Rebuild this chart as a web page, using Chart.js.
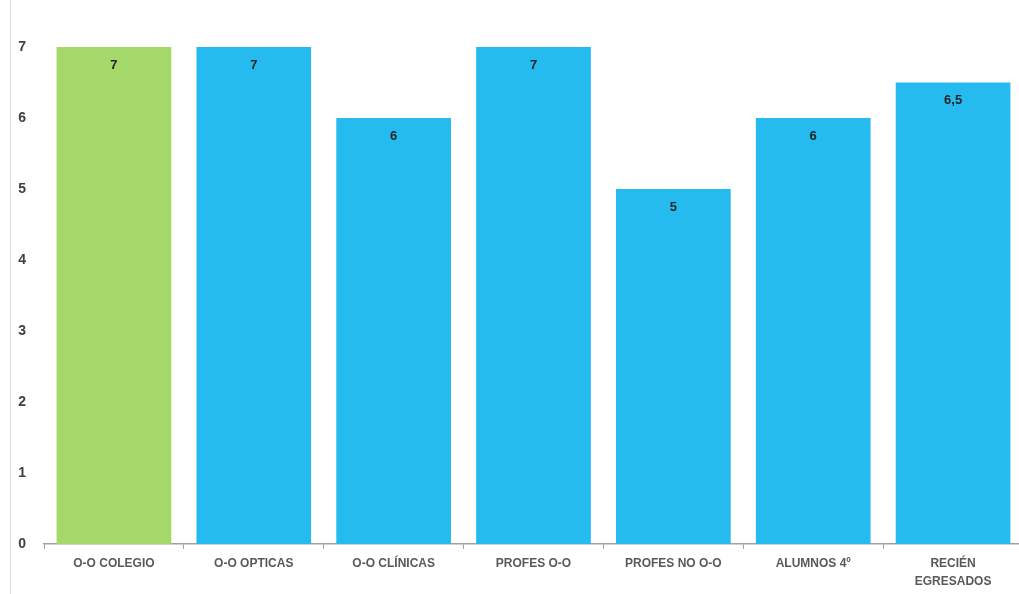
<!DOCTYPE html>
<html>
<head>
<meta charset="utf-8">
<script src="https://cdn.jsdelivr.net/npm/chart.js@4"></script>
<style>
  html, body { margin: 0; padding: 0; background: #fff; overflow: hidden; }
  #wrap { position: absolute; left: 0; top: 0; width: 1019px; height: 594px; overflow: hidden; }
  #edge { position: absolute; left: 10px; top: 0; width: 1px; height: 594px; background: #d9d9d9; }
  #myBarChart { position: absolute; left: 0; top: 0; }
</style>
</head>
<body>
<div id="wrap">
  <div id="edge"></div>
  <canvas id="myBarChart" width="1023" height="594"></canvas>
</div>
<script>
// categories and values
const categories = ['O-O COLEGIO', 'O-O OPTICAS', 'O-O CLÍNICAS', 'PROFES O-O', 'PROFES NO O-O', 'ALUMNOS 4º', ['RECIÉN', 'EGRESADOS']];
const values = [7, 7, 6, 7, 5, 6, 6.5];
const barColors = ['#a5d86a', '#26bbef', '#26bbef', '#26bbef', '#26bbef', '#26bbef', '#26bbef'];

// draws the value just inside the top of each bar
const valueLabels = {
    id: 'valueLabels',
    afterDatasetsDraw(chart) {
        const ctx = chart.ctx;
        const meta = chart.getDatasetMeta(0);
        ctx.save();
        ctx.font = 'bold 13px "Liberation Sans", sans-serif';
        ctx.fillStyle = '#262626';
        ctx.textAlign = 'center';
        ctx.textBaseline = 'middle';
        meta.data.forEach((bar, i) => {
            ctx.fillText(String(values[i]).replace('.', ','), bar.x, bar.y + 18);
        });
        ctx.restore();
    }
};

const ctx = document.getElementById('myBarChart').getContext('2d');
const myBarChart = new Chart(ctx, {
    type: 'bar',
    data: {
        labels: categories,
        datasets: [{
            data: values,
            backgroundColor: barColors,
            borderWidth: 0,
            barPercentage: 0.82,
            categoryPercentage: 1
        }]
    },
    options: {
        responsive: false,
        animation: false,
        layout: { padding: { top: 47, right: 0, left: 0, bottom: 0 } },
        plugins: {
            legend: { display: false },
            tooltip: { enabled: false }
        },
        scales: {
            x: {
                border: { display: true, color: '#a0a0a0', width: 1.5 },
                grid: { display: true, drawOnChartArea: false, drawTicks: true, tickLength: 5, color: '#a0a0a0', offset: true },
                ticks: {
                    color: '#595959',
                    font: { family: '"Liberation Sans", sans-serif', size: 12, weight: 'bold', lineHeight: 1.5 },
                    padding: 6,
                    maxRotation: 0,
                    autoSkip: false
                },
                afterFit: s => { s.height = 50; }
            },
            y: {
                min: 0,
                max: 7,
                border: { display: false },
                grid: { display: false, drawTicks: false },
                ticks: {
                    stepSize: 1,
                    color: '#404040',
                    font: { family: '"Liberation Sans", sans-serif', size: 14, weight: 'bold' },
                    padding: 18
                },
                afterFit: s => { s.width = 44; }
            }
        }
    },
    plugins: [valueLabels]
});
</script>
</body>
</html>
